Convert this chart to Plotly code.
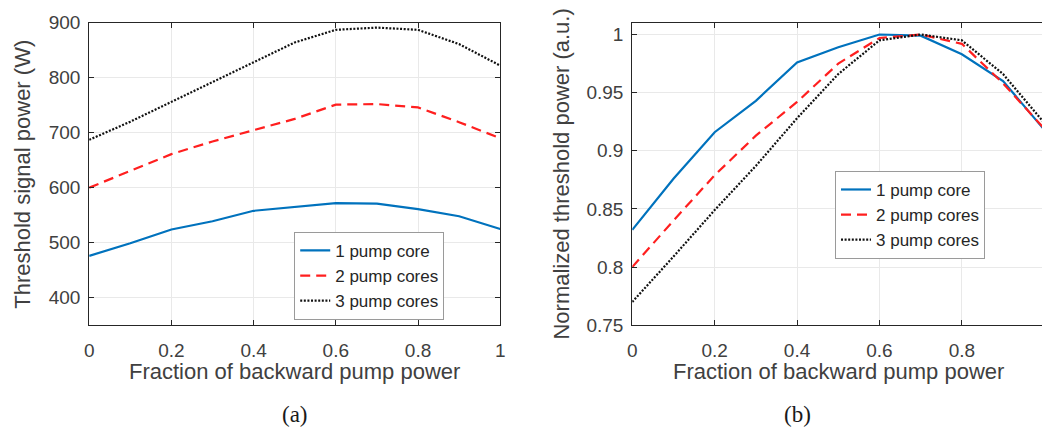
import plotly.graph_objects as go

# Fraction of the pump power launched backward
frac = [0.0, 0.1, 0.2, 0.3, 0.4, 0.5, 0.6, 0.7, 0.8, 0.9, 1.0]

# Threshold signal power (W)
p_1core = [476, 499, 524, 539, 558, 565, 572, 571, 561, 548, 525]
p_2core = [600, 630, 661, 684, 704, 725, 751, 752, 746, 719, 690]
p_3core = [687, 720, 756, 792, 828, 864, 887, 891, 887, 861, 822]

# Normalized threshold power (a.u.)
n_1core = [0.832, 0.876, 0.916, 0.943, 0.976, 0.989, 1.000, 0.999, 0.983, 0.960, 0.918]
n_2core = [0.800, 0.840, 0.879, 0.913, 0.942, 0.975, 0.997, 1.000, 0.992, 0.958, 0.919]
n_3core = [0.770, 0.809, 0.849, 0.887, 0.928, 0.966, 0.995, 1.000, 0.995, 0.966, 0.924]

names = ["1 pump core", "2 pump cores", "3 pump cores"]
colors = ["#0072BD", "#FF1F1F", "#111111"]
dashes = ["solid", "10px,6px", "2px,1.6px"]

W, H = 1047, 440
TXT = "#404040"
FONT = "Liberation Sans, Arial, sans-serif"

fig = go.Figure()

for i, ys in enumerate([p_1core, p_2core, p_3core]):
    fig.add_trace(go.Scatter(
        x=frac, y=ys, mode="lines", name=names[i],
        line=dict(color=colors[i], width=2.2, dash=dashes[i]),
        xaxis="x", yaxis="y", legend="legend"))

for i, ys in enumerate([n_1core, n_2core, n_3core]):
    fig.add_trace(go.Scatter(
        x=frac, y=ys, mode="lines", name=names[i],
        line=dict(color=colors[i], width=2.2, dash=dashes[i]),
        xaxis="x2", yaxis="y2", legend="legend2"))

axis_common = dict(
    showline=True, linecolor="#262626", linewidth=1,
    ticks="inside", ticklen=5, tickcolor="#262626", tickwidth=1,
    showgrid=True, gridcolor="#e9e9e9", gridwidth=1, zeroline=False,
    tickfont=dict(family=FONT, size=19, color=TXT),
)

top = 1 - 13.3 / H
bottom = 1 - 331 / H

# right panel runs off the page edge: 83.2 px per 0.2 starting at x=633.3
x2_left = 633.3
x2_span = (W - x2_left) / (5 * 83.2)

legend_common = dict(
    xanchor="left", yanchor="top",
    bgcolor="white", bordercolor="#9a9a9a", borderwidth=1,
    font=dict(family=FONT, size=17, color="#262626"),
    tracegroupgap=0, itemwidth=30,
)

fig.update_layout(
    width=W, height=H,
    margin=dict(l=0, r=0, t=0, b=0),
    paper_bgcolor="white", plot_bgcolor="white",
    xaxis=dict(domain=[85 / W, 500 / W], range=[0, 1], dtick=0.2,
               ticklabelstandoff=8, mirror="ticks", **axis_common),
    yaxis=dict(domain=[bottom, top], range=[350, 900], dtick=100,
               ticklabelstandoff=4, mirror="ticks", **axis_common),
    xaxis2=dict(domain=[x2_left / W, 1.0], range=[0, x2_span], dtick=0.2,
                ticklabelstandoff=8, anchor="y2", mirror="ticks", **axis_common),
    yaxis2=dict(domain=[bottom, top], range=[0.75, 1.0102], dtick=0.05,
                ticklabelstandoff=4, anchor="x2", mirror=False, **axis_common),
    legend=dict(x=292 / W, y=1 - 233 / H, **legend_common),
    legend2=dict(x=838 / W, y=1 - 169 / H, **legend_common),
    showlegend=True,
)

title_font = dict(family=FONT, size=22, color=TXT)
annos = [
    dict(text="Threshold signal power (W)", x=18 / W, y=(top + bottom) / 2,
         textangle=-90, font=title_font),
    dict(text="Normalized threshold power (a.u.)", x=562 / W, y=(top + bottom) / 2,
         textangle=-90, font=title_font),
    dict(text="Fraction of backward pump power", x=292.5 / W, y=1 - 380 / H,
         font=title_font),
    dict(text="Fraction of backward pump power", x=841.5 / W, y=1 - 380 / H,
         font=title_font),
    dict(text="(a)", x=293 / W, y=1 - 425 / H,
         font=dict(family="Liberation Serif, Times New Roman, serif", size=23, color="#1a1a1a")),
    dict(text="(b)", x=800 / W, y=1 - 425 / H,
         font=dict(family="Liberation Serif, Times New Roman, serif", size=23, color="#1a1a1a")),
]
for a in annos:
    fig.add_annotation(xref="paper", yref="paper", showarrow=False,
                       xanchor="center", yanchor="middle", **a)

fig.write_html("out.html")
